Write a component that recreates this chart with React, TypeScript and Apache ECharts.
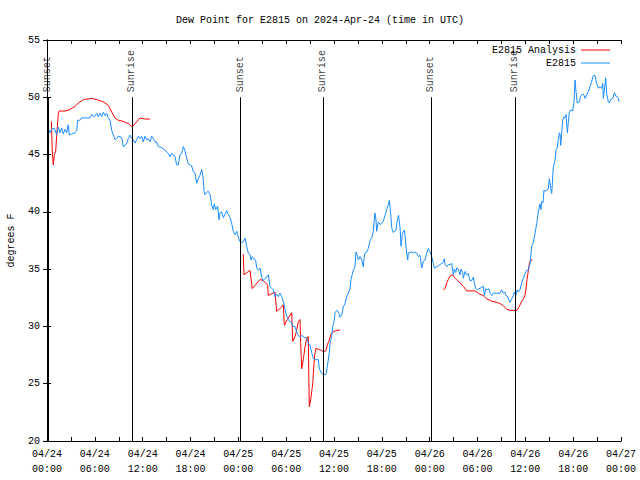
import React, { useEffect, useRef } from "react";
import * as echarts from "echarts";

// hours since 2024-04-24 00:00 UTC, dew point (°F)
const obsE2815: [number, number][] = [
  [0.16, 47.3], [0.38, 46.9], [0.59, 47.2], [0.92, 47.3], [1.22, 46.7], [1.42, 47.4], [1.63, 46.9], [1.84, 47.3],
  [2.04, 46.8], [2.26, 47.2], [2.47, 46.9], [2.67, 47.6], [2.8, 46.7], [3.1, 46.8], [3.51, 46.9], [3.73, 47.1],
  [3.85, 48.0], [4.14, 48.0], [4.35, 48.2], [4.77, 48.2], [5.39, 48.2], [5.61, 48.5], [5.93, 48.3], [6.23, 48.6],
  [6.44, 48.3], [6.65, 48.6], [6.86, 48.3], [7.06, 48.7], [7.28, 48.4], [7.49, 48.6], [7.69, 48.2], [7.9, 48.0],
  [8.12, 47.1], [8.32, 46.7], [8.53, 46.3], [8.74, 46.4], [8.94, 46.6], [9.37, 46.5], [9.57, 45.7], [9.78, 45.8],
  [10.0, 46.0], [10.2, 46.4], [10.41, 46.7], [10.62, 46.4], [10.83, 46.3], [11.04, 46.0], [11.25, 46.3], [11.45, 46.6],
  [11.67, 46.4], [11.88, 46.6], [12.08, 46.1], [12.29, 46.6], [12.51, 46.3], [12.71, 46.4], [12.92, 46.1], [13.13, 46.6],
  [13.33, 46.4], [13.55, 46.1], [13.76, 46.1], [13.96, 45.7], [14.39, 45.6], [14.8, 45.4], [15.22, 45.1], [15.43, 44.8],
  [15.64, 45.1], [15.84, 45.0], [16.06, 44.8], [16.27, 44.1], [16.47, 44.1], [16.68, 45.0], [16.9, 45.1], [17.1, 45.7],
  [17.31, 45.3], [17.52, 44.7], [17.72, 44.2], [17.94, 44.1], [18.15, 44.0], [18.35, 43.5], [18.56, 43.4], [18.78, 42.5],
  [18.98, 42.9], [19.19, 43.2], [19.41, 43.7], [19.61, 42.8], [19.7, 41.8], [19.82, 41.5], [20.03, 41.7], [20.23, 41.8],
  [20.45, 41.5], [20.66, 40.6], [20.86, 40.2], [20.99, 40.7], [21.16, 40.2], [21.41, 40.5], [21.58, 39.3], [21.7, 39.9],
  [21.91, 40.0], [22.12, 39.5], [22.33, 39.8], [22.54, 40.1], [22.74, 39.8], [22.96, 39.5], [23.17, 39.0], [23.37, 38.3],
  [23.58, 38.0], [23.8, 38.3], [24.0, 37.8], [24.21, 37.4], [24.42, 37.3], [24.62, 37.4], [24.84, 37.7], [25.05, 37.0],
  [25.25, 36.4], [25.46, 36.3], [25.59, 35.8], [25.75, 36.1], [26.0, 35.9], [26.18, 35.7], [26.31, 35.1], [26.51, 34.9],
  [26.72, 35.1], [26.94, 34.3], [27.13, 34.0], [27.35, 34.2], [27.56, 34.3], [27.76, 34.5], [27.97, 33.5], [28.19, 33.3],
  [28.39, 33.2], [28.6, 32.6], [28.81, 32.8], [29.01, 32.6], [29.23, 32.9], [29.44, 32.6], [29.64, 32.2], [29.85, 31.5],
  [30.07, 30.9], [30.27, 30.6], [30.48, 30.4], [30.7, 30.3], [30.82, 30.0], [31.11, 30.0], [31.32, 29.5], [31.52, 29.2],
  [31.74, 29.1], [31.95, 29.2], [32.15, 29.1], [32.36, 29.0], [32.58, 29.0], [32.78, 28.5], [32.99, 28.4], [33.2, 27.7],
  [33.41, 27.2], [33.62, 27.1], [33.83, 27.1], [34.03, 27.1], [34.16, 26.3], [34.46, 25.9], [34.66, 25.8], [35.0, 25.8],
  [35.16, 26.5], [35.41, 27.7], [35.5, 28.5], [35.71, 29.1], [35.84, 30.0], [36.0, 30.4], [36.13, 31.2], [36.34, 31.4],
  [36.54, 31.3], [36.75, 30.8], [36.97, 31.0], [37.17, 31.7], [37.38, 32.0], [37.59, 32.6], [37.8, 32.9], [38.01, 33.3],
  [38.13, 34.1], [38.42, 34.9], [38.63, 35.2], [38.76, 36.5], [38.92, 36.2], [39.05, 35.8], [39.26, 36.1], [39.47, 35.8],
  [39.68, 35.2], [39.77, 36.0], [39.89, 36.4], [40.1, 36.5], [40.3, 36.8], [40.52, 37.5], [40.73, 37.7], [40.93, 38.3],
  [41.14, 39.9], [41.27, 39.3], [41.35, 38.3], [41.56, 39.1], [41.77, 38.9], [41.99, 39.0], [42.19, 39.2], [42.4, 39.7],
  [42.61, 40.2], [42.81, 40.6], [42.94, 41.0], [43.11, 39.9], [43.24, 38.6], [43.44, 38.2], [43.78, 38.4], [43.94, 39.3],
  [44.1, 39.7], [44.3, 38.5], [44.41, 37.0], [44.57, 38.1], [44.82, 38.4], [44.91, 37.9], [45.12, 36.4], [45.25, 35.8],
  [45.32, 36.4], [45.75, 36.5], [45.96, 36.4], [46.16, 36.5], [46.38, 36.4], [46.58, 36.1], [46.79, 36.2], [47.0, 35.1],
  [47.21, 35.7], [47.42, 35.8], [47.63, 36.4], [47.83, 36.8], [48.04, 36.5], [48.25, 36.1], [48.46, 35.5], [48.58, 35.1],
  [48.88, 35.2], [49.09, 35.3], [49.3, 35.4], [49.51, 35.5], [49.71, 35.6], [49.84, 35.9], [49.93, 35.4], [50.14, 35.2],
  [50.34, 35.4], [50.55, 35.4], [50.77, 35.5], [50.97, 34.5], [51.09, 35.0], [51.27, 34.7], [51.39, 35.1], [51.6, 35.0],
  [51.81, 34.5], [51.94, 35.0], [52.15, 34.7], [52.22, 34.2], [52.44, 34.8], [52.65, 34.5], [52.85, 34.6], [53.06, 34.0],
  [53.27, 34.0], [53.48, 34.3], [53.6, 33.8], [53.78, 33.3], [53.98, 33.2], [54.19, 33.3], [54.53, 33.4], [54.74, 33.5],
  [54.86, 32.7], [55.04, 33.3], [55.28, 33.2], [55.44, 33.3], [55.57, 32.9], [55.78, 32.7], [55.98, 32.9], [56.41, 32.9],
  [56.82, 32.9], [57.03, 33.2], [57.24, 32.9], [57.45, 33.0], [57.57, 32.7], [57.79, 32.6], [57.95, 32.3], [58.08, 32.1],
  [58.29, 32.4], [58.49, 32.7], [58.62, 33.0], [58.8, 32.7], [58.99, 33.2], [59.12, 33.0], [59.33, 33.2], [59.54, 33.8],
  [59.75, 34.2], [59.96, 34.6], [60.17, 34.9], [60.37, 34.9], [60.59, 35.5], [60.8, 37.0], [61.0, 37.3], [61.21, 38.1],
  [61.43, 39.0], [61.63, 40.0], [61.84, 40.7], [61.97, 40.2], [62.05, 40.9], [62.22, 40.8], [62.34, 41.9], [62.47, 41.8],
  [62.68, 41.9], [62.88, 42.0], [63.01, 42.9], [63.18, 42.1], [63.31, 41.6], [63.51, 43.9], [63.72, 44.5], [63.85, 45.4],
  [63.97, 45.5], [64.14, 46.3], [64.26, 46.9], [64.35, 46.8], [64.44, 45.8], [64.56, 46.9], [64.69, 48.0], [64.85, 48.3],
  [64.98, 48.2], [65.1, 48.5], [65.27, 46.9], [65.39, 47.8], [65.52, 48.7], [65.69, 48.9], [65.94, 48.8], [66.11, 49.6],
  [66.23, 51.5], [66.36, 50.5], [66.52, 49.5], [66.77, 49.6], [66.95, 50.1], [67.2, 50.3], [67.36, 50.2], [67.49, 49.9],
  [67.7, 50.2], [67.9, 50.5], [68.11, 50.9], [68.33, 51.4], [68.53, 51.9], [68.74, 51.9], [68.95, 51.2], [69.16, 50.8],
  [69.37, 50.9], [69.58, 50.8], [69.71, 51.2], [69.79, 49.9], [69.91, 50.6], [70.08, 51.7], [70.21, 50.3], [70.41, 49.6],
  [70.54, 49.5], [70.71, 49.8], [70.96, 49.9], [71.17, 50.4], [71.38, 50.1], [71.59, 50.0], [71.79, 49.6],
];

const analysisSeg1: [number, number][] = [
  [0.55, 47.9], [0.66, 45.3], [0.79, 44.1], [0.92, 45.0], [1.09, 45.3], [1.22, 46.7], [1.42, 48.6], [1.51, 48.8],
  [2.26, 48.8], [2.76, 48.9], [3.01, 49.0], [3.51, 49.2], [3.93, 49.5], [4.55, 49.8], [5.61, 49.9], [6.23, 49.8],
  [7.06, 49.6], [7.69, 49.3], [8.12, 48.7], [8.53, 48.2], [8.94, 48.0], [9.57, 47.9], [10.2, 47.7], [10.7, 47.4],
  [11.04, 47.7], [11.67, 48.2], [12.29, 48.1], [12.92, 48.1],
];
const analysisSeg2: [number, number][] = [
  [24.62, 36.3], [24.71, 34.5], [25.46, 34.9], [25.75, 33.3], [26.72, 34.1], [27.13, 34.0], [27.68, 33.6], [27.76, 32.7],
  [28.6, 33.0], [28.81, 31.3], [29.44, 31.7], [29.64, 31.9], [29.77, 30.1], [30.14, 30.6], [30.7, 31.2], [30.82, 28.7],
  [31.11, 29.1], [31.32, 29.7], [31.52, 30.4], [31.74, 30.6], [31.82, 28.5], [31.95, 26.3], [32.15, 27.1], [32.36, 28.2],
  [32.58, 29.0], [32.78, 29.1], [32.83, 26.1], [32.9, 23.0], [33.08, 23.6], [33.2, 24.3], [33.33, 25.0], [33.49, 26.8],
  [33.62, 27.7], [33.74, 28.1], [34.03, 28.0], [34.46, 27.9], [34.75, 27.8], [35.0, 27.9], [35.16, 28.4], [35.41, 28.8],
  [35.59, 29.3], [35.84, 29.5], [36.13, 29.6], [36.75, 29.7],
];
const analysisSeg3: [number, number][] = [
  [49.71, 33.2], [49.93, 33.3], [50.14, 33.8], [50.34, 34.1], [50.55, 34.4], [50.84, 34.5], [51.09, 34.3], [51.39, 34.1],
  [51.81, 33.8], [52.22, 33.5], [52.65, 33.1], [53.69, 33.1], [54.32, 32.8], [54.73, 32.7], [55.16, 32.4], [55.78, 32.2],
  [56.41, 32.1], [56.82, 32.0], [57.24, 31.8], [57.66, 31.5], [58.08, 31.4], [58.92, 31.4], [59.21, 31.7], [59.54, 32.2],
  [59.75, 32.4], [59.96, 32.7], [60.09, 33.3], [60.21, 34.1], [60.37, 34.8], [60.5, 35.5], [60.67, 35.8], [60.92, 35.8],
];

const sunLabels = ["Sunset", "Sunrise", "Sunset", "Sunrise", "Sunset", "Sunrise"];
const sunHours = [0.12, 10.66, 24.22, 34.62, 48.15, 58.68];

const xTickLabels = [
  "04/24\n00:00", "04/24\n06:00", "04/24\n12:00", "04/24\n18:00",
  "04/25\n00:00", "04/25\n06:00", "04/25\n12:00", "04/25\n18:00",
  "04/26\n00:00", "04/26\n06:00", "04/26\n12:00", "04/26\n18:00",
  "04/27\n00:00",
];

const MONO = "Liberation Mono";

export default function App() {
  const ref = useRef<HTMLDivElement>(null);
  useEffect(() => {
    if (!ref.current) return;
    const chart = echarts.init(ref.current, undefined, { renderer: "svg" });
    const analysisData: any[] = [
      ...analysisSeg1, [18, "-"], ...analysisSeg2, [42, "-"], ...analysisSeg3,
    ];
    const axisLine = { show: true, lineStyle: { color: "#000", width: 1 } };
    const txt = { fontFamily: MONO, fontSize: 10, color: "#000" };
    const legendBase = {
      right: 30, orient: "vertical", align: "right", icon: "rect", padding: 0,
      itemWidth: 29, itemHeight: 1, selectedMode: false, textStyle: txt,
    };
    chart.setOption({
      animation: false,
      backgroundColor: "#fff",
      title: {
        text: "Dew Point for E2815 on 2024-Apr-24 (time in UTC)",
        left: "center",
        top: 10,
        textStyle: { ...txt, fontWeight: "normal" },
      },
      legend: [
        { ...legendBase, data: ["E2815 Analysis"], top: 45 },
        { ...legendBase, data: ["E2815"], top: 58 },
      ],
      grid: { left: 47, right: 19, top: 40, bottom: 39, outerBoundsMode: "none", containLabel: false },
      xAxis: [
        {
          type: "value", min: 0, max: 72, interval: 6, position: "bottom",
          axisLine,
          axisTick: { show: true, inside: true, length: 4, lineStyle: { color: "#000" } },
          minorTick: { show: true, splitNumber: 2, length: 4, lineStyle: { color: "#000" } },
          splitLine: { show: false },
          axisLabel: {
            ...txt, margin: 6, lineHeight: 15,
            formatter: (v: number) => xTickLabels[Math.round(v / 6)] ?? "",
          },
        },
        {
          type: "value", min: 0, max: 72, interval: 6, position: "top",
          axisLine,
          axisTick: { show: true, inside: true, length: 4, lineStyle: { color: "#000" } },
          minorTick: { show: true, splitNumber: 2, length: 4, lineStyle: { color: "#000" } },
          splitLine: { show: false },
          axisLabel: { show: false },
        },
      ],
      yAxis: [
        {
          type: "value", min: 20, max: 55, interval: 5, position: "left",
          name: "degrees F", nameLocation: "middle", nameRotate: 90, nameGap: 31,
          nameTextStyle: txt,
          axisLine,
          axisTick: { show: true, inside: true, length: 4, lineStyle: { color: "#000" } },
          splitLine: { show: false },
          axisLabel: { ...txt, margin: 7 },
        },
        {
          type: "value", min: 20, max: 55, interval: 5, position: "right",
          axisLine,
          axisTick: { show: true, inside: true, length: 4, lineStyle: { color: "#000" } },
          splitLine: { show: false },
          axisLabel: { show: false },
        },
      ],
      series: [
        {
          name: "E2815 Analysis", type: "line", data: analysisData, symbol: "none",
          lineStyle: { color: "#ff0000", width: 1 }, itemStyle: { color: "#ff0000" },
          connectNulls: false, silent: true,
        },
        {
          name: "E2815", type: "line", data: obsE2815, symbol: "none",
          lineStyle: { color: "#1a8cff", width: 1 }, itemStyle: { color: "#1a8cff" },
          silent: true,
        },
        {
          name: "sun", type: "scatter", symbolSize: 1, silent: true,
          itemStyle: { color: "rgba(0,0,0,0)" },
          data: sunHours.map((h, i) => ({ name: sunLabels[i], value: [h, 50.45] })),
          label: {
            ...txt, show: true, position: "inside", rotate: 90, formatter: "{b}",
            align: "left", verticalAlign: "middle",
          },
          markLine: {
            silent: true, symbol: ["none", "none"],
            label: { show: false },
            lineStyle: { color: "#000", width: 1, type: "solid" },
            data: sunHours.map((h) => [{ coord: [h, 50] }, { coord: [h, 20] }]),
          },
        },
      ],
    });
    return () => chart.dispose();
  }, []);
  return <div ref={ref} style={{ width: 640, height: 480, position: "absolute", left: 0, top: 0 }} />;
}
